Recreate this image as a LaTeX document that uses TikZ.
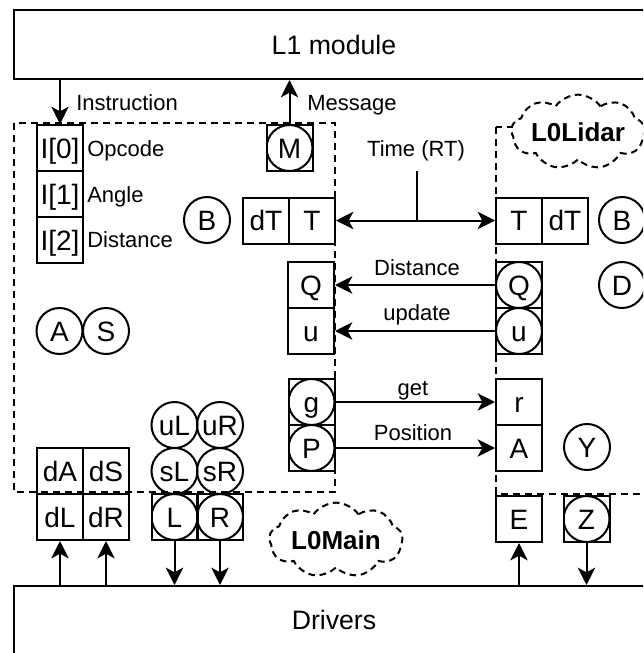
\documentclass[tikz,border=0pt]{standalone}
\usepackage{fontspec}
\setmainfont{Liberation Sans}
\usetikzlibrary{arrows.meta,shapes.symbols}

\newcommand\lblfont{\fontsize{16.5pt}{19pt}\selectfont}
\newcommand\cellfont{\fontsize{21pt}{24pt}\selectfont}
\newcommand\titlefont{\fontsize{20pt}{24pt}\selectfont}
\newcommand\cloudfont{\fontsize{19.5pt}{22pt}\selectfont\bfseries}

\tikzset{
  cell/.style={draw, line width=1.5pt, minimum width=34.5pt, minimum height=34.5pt,
    inner sep=0pt, text height=15pt, text depth=0pt, font=\cellfont},
  ring/.style={cell, circle},
  cellring/.style={cell, path picture={\draw[line width=1.5pt]
    (path picture bounding box.center) circle (17.25pt);}},
  region/.style={draw, line width=1.5pt, dash pattern=on 5.5pt off 3.5pt},
  tip/.style={Stealth[length=13pt,width=13pt,inset=3.5pt]},
  arr/.style={line width=1.5pt, -{Stealth[length=13pt,width=13pt,inset=3.5pt]}},
  arrboth/.style={line width=1.5pt,
    {Stealth[length=13pt,width=13pt,inset=3.5pt]}-{Stealth[length=13pt,width=13pt,inset=3.5pt]}},
  lbl/.style={font=\lblfont, inner sep=0pt},
  tag/.style={cloud, cloud puffs=9, cloud puff arc=110, cloud ignores aspect, draw,
    fill=white, line width=1.5pt, dash pattern=on 5pt off 3.5pt, font=\cloudfont,
    minimum width=100pt, minimum height=56pt, inner sep=0pt},
  bigbox/.style={draw, line width=1.5pt, minimum width=480pt, font=\titlefont, inner sep=0pt}
}

\begin{document}
\begin{tikzpicture}[x=0.75pt,y=-0.75pt]
\useasboundingbox (0,0) rectangle (643,653);
\clip (0,0) rectangle (643,653);

% upper and lower layers
\node[bigbox, minimum height=51.75pt] (l1) at (334,44.5) {L1 module};
\node[bigbox, minimum height=51pt] (drv) at (334,620) {Drivers};

% module regions
\draw[region] (14,123) rectangle (335,492);
\draw[region] (496,127) rectangle (660,494);

% ---- L0Main ----
\node[cell] (I0) at (60,148) {I[0]};
\node[cell] (I1) at (60,194) {I[1]};
\node[cell] (I2) at (60,240) {I[2]};
\node[lbl, anchor=base west] (lop) at (87,156) {Opcode};
\node[lbl, anchor=base west] (lang) at (87,202) {Angle};
\node[lbl, anchor=base west] (ldist) at (87,247) {Distance};

\node[cellring] (M) at (289.5,148) {M};
\node[ring] (Bl) at (207,220) {B};
\node[cell] (dTl) at (266,220.5) {dT};
\node[cell] (Tl) at (312,220.5) {T};
\node[cell] (Ql) at (311,285) {Q};
\node[cell] (ul) at (311,331) {u};
\node[cellring] (g) at (311.5,402) {g};
\node[cellring] (P) at (311.5,448) {P};

\node[ring] (A) at (59.5,331) {A};
\node[ring] (S) at (106,331) {S};

\node[cell] (dA) at (60,471) {dA};
\node[cell] (dS) at (106,471) {dS};
\node[cell] (dL) at (60,517) {dL};
\node[cell] (dR) at (106,517) {dR};

\node[ring] (uL) at (174.5,425) {uL};
\node[ring] (uR) at (220,425) {uR};
\node[ring] (sL) at (174.5,471) {sL};
\node[ring] (sR) at (220,471) {sR};
\node[cellring] (L) at (174.5,517) {L};
\node[cellring] (R) at (220,517) {R};

\node[tag] (main) at (336,540) {L0Main};

% ---- L0Lidar ----
\node[tag] (lidar) at (578,132) {L0Lidar};
\node[cell] (Tr) at (519,220.5) {T};
\node[cell] (dTr) at (565,220.5) {dT};
\node[ring] (Br) at (622,220) {B};
\node[cellring] (Qr) at (519,285) {Q};
\node[cellring] (ur) at (519,331) {u};
\node[ring] (D) at (622,285) {D};
\node[cell] (r) at (519,402) {r};
\node[cell] (Ar) at (519,448) {A};
\node[ring] (Y) at (587,447) {Y};
\node[cell] (E) at (519,519) {E};
\node[cellring] (Z) at (586.5,519) {Z};

% ---- connectors ----
\draw[arr] (l1.south -| I0.north) -- (I0.north);
\node[lbl, anchor=base west] (linstr) at (76,110) {Instruction};
\draw[arr] (M.north) -- (M.north |- l1.south);
\node[lbl, anchor=base west] (lmsg) at (307,110) {Message};

\draw[arrboth] (Tl.east) -- (Tr.west);
\coordinate (stem) at (417,171);
\draw[line width=1.5pt] (stem) -- (stem |- Tl.east);
\node[lbl, anchor=base] (ltime) at (416,156) {Time (RT)};

\draw[arr] (Qr.west) -- (Ql.east);
\node[lbl, anchor=base] (ldq) at (417,275) {Distance};
\draw[arr] (ur.west) -- (ul.east);
\node[lbl, anchor=base] (lupd) at (417,320) {update};

\draw[arr] (g.east) -- (r.west);
\node[lbl, anchor=base] (lget) at (413,395) {get};
\draw[arr] (P.east) -- (Ar.west);
\node[lbl, anchor=base] (lpos) at (413,440) {Position};

\draw[arr] (dL.south |- drv.north) -- (dL.south);
\draw[arr] (dR.south |- drv.north) -- (dR.south);
\draw[arr] (L.south) -- (L.south |- drv.north);
\draw[arr] (R.south) -- (R.south |- drv.north);
\draw[arr] (E.south |- drv.north) -- (E.south);
\draw[arr] (Z.south) -- (Z.south |- drv.north);
\end{tikzpicture}
\end{document}
